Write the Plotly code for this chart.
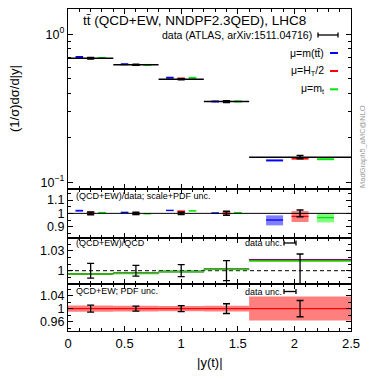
import plotly.graph_objects as go

# ---------------- data ----------------
bin_lo = [0.0, 0.4, 0.8, 1.2, 1.6]
bin_hi = [0.4, 0.8, 1.2, 1.6, 2.5]

# normalised distribution (ATLAS data)
data_val = [0.689, 0.623, 0.497, 0.351, 0.148]
data_relerr = [0.011, 0.008, 0.009, 0.015, 0.025]

# theory (QCD+EW) main panel
th_mtt = [0.703, 0.628, 0.509, 0.352, 0.1406]
th_ht2 = [0.691, 0.620, 0.503, 0.353, 0.1447]
th_mt = [0.693, 0.621, 0.508, 0.352, 0.1433]

# ratio (QCD+EW)/data with scale+PDF band
r_mtt = [1.020, 1.007, 1.022, 1.002, 0.950]
r_mtt_lo = [1.012, 1.002, 1.017, 0.997, 0.910]
r_mtt_hi = [1.028, 1.012, 1.027, 1.008, 0.985]
r_ht2 = [1.004, 0.997, 1.014, 1.002, 0.977]
r_ht2_lo = [0.993, 0.987, 1.002, 0.988, 0.935]
r_ht2_hi = [1.016, 1.008, 1.026, 1.017, 1.017]
r_mt = [1.006, 0.997, 1.019, 1.006, 0.968]
r_mt_lo = [1.001, 0.994, 1.012, 1.002, 0.932]
r_mt_hi = [1.011, 1.002, 1.025, 1.010, 1.000]

# (QCD+EW)/QCD
ew_mtt = [0.9953, 0.9963, 0.9988, 1.0023, 1.0165]
ew_ht2 = [0.9951, 0.9961, 0.9986, 1.0021, 1.0155]
ew_mt = [0.9949, 0.9959, 0.9984, 1.0019, 1.0145]

# PDF uncertainty (relative, QCD+EW)
pdf_unc = [0.010, 0.009, 0.008, 0.009, 0.037]

BLUE, RED, GREEN = "#0000ff", "#ff0000", "#00e600"
BLUE_F, RED_F, GREEN_F = "rgba(0,0,255,0.5)", "rgba(255,0,0,0.5)", "rgba(0,255,0,0.5)"
FONT = "Liberation Sans, Arial, sans-serif"

centers = [(a + b) / 2 for a, b in zip(bin_lo, bin_hi)]
widths = [b - a for a, b in zip(bin_lo, bin_hi)]


def segs(vals, frac=None, half=None):
    xs, ys = [], []
    for a, b, v in zip(bin_lo, bin_hi, vals):
        w = b - a
        if frac is None:
            x0, x1 = a, b
        else:
            x0, x1 = a + w * (frac - half), a + w * (frac + half)
        xs += [x0, x1, None]
        ys += [v, v, None]
    return xs, ys


fig = go.Figure()

# -------- main panel --------
for vals, col, fr in [(th_mtt, BLUE, 0.25), (th_ht2, RED, 0.5), (th_mt, GREEN, 0.75)]:
    xs, ys = segs(vals, fr, 1 / 12)
    fig.add_trace(go.Scatter(x=xs, y=ys, mode="lines", line=dict(color=col, width=2),
                             xaxis="x", yaxis="y", showlegend=False, hoverinfo="skip"))
xs, ys = segs(data_val)
fig.add_trace(go.Scatter(x=xs, y=ys, mode="lines", line=dict(color="black", width=1.5),
                         xaxis="x", yaxis="y", showlegend=False, hoverinfo="skip"))
fig.add_trace(go.Scatter(x=centers, y=data_val, mode="markers", marker=dict(size=1, color="black"),
                         error_y=dict(type="data", array=[v * e for v, e in zip(data_val, data_relerr)],
                                      width=3.5, thickness=1.5, color="black"),
                         xaxis="x", yaxis="y", showlegend=False, hoverinfo="skip"))

# -------- panel 2: (QCD+EW)/data --------
for c, lo, hi, fill, col, fr in [(r_mtt, r_mtt_lo, r_mtt_hi, BLUE_F, BLUE, 0.25),
                                 (r_ht2, r_ht2_lo, r_ht2_hi, RED_F, RED, 0.5),
                                 (r_mt, r_mt_lo, r_mt_hi, GREEN_F, GREEN, 0.75)]:
    fig.add_trace(go.Bar(x=[a + w * fr for a, w in zip(bin_lo, widths)],
                         y=[h - l for h, l in zip(hi, lo)], base=lo,
                         width=[w / 6 for w in widths], marker=dict(color=fill, line=dict(width=0)),
                         xaxis="x2", yaxis="y2", showlegend=False, hoverinfo="skip"))
    xs, ys = segs(c, fr, 1 / 12)
    fig.add_trace(go.Scatter(x=xs, y=ys, mode="lines", line=dict(color=col, width=1.3),
                             xaxis="x2", yaxis="y2", showlegend=False, hoverinfo="skip"))
fig.add_trace(go.Scatter(x=[0, 2.5], y=[1, 1], mode="lines", line=dict(color="black", width=1),
                         xaxis="x2", yaxis="y2", showlegend=False, hoverinfo="skip"))
fig.add_trace(go.Scatter(x=centers, y=[1] * 5, mode="markers", marker=dict(size=1, color="black"),
                         error_y=dict(type="data", array=data_relerr, width=3.5, thickness=1.5, color="black"),
                         xaxis="x2", yaxis="y2", showlegend=False, hoverinfo="skip"))

# -------- panel 3: (QCD+EW)/QCD --------
fig.add_trace(go.Scatter(x=[0, 2.5], y=[1, 1], mode="lines", line=dict(color="black", width=1, dash="4px,3px"),
                         xaxis="x3", yaxis="y3", showlegend=False, hoverinfo="skip"))
for vals, col in [(ew_mtt, BLUE), (ew_ht2, RED), (ew_mt, GREEN)]:
    xs, ys = segs(vals)
    fig.add_trace(go.Scatter(x=xs, y=ys, mode="lines", line=dict(color=col, width=1.5),
                             xaxis="x3", yaxis="y3", showlegend=False, hoverinfo="skip"))
fig.add_trace(go.Scatter(x=centers, y=[1] * 5, mode="markers", marker=dict(size=1, color="black"),
                         error_y=dict(type="data", array=data_relerr, width=3.5, thickness=1.3, color="black"),
                         xaxis="x3", yaxis="y3", showlegend=False, hoverinfo="skip"))

# -------- panel 4: PDF unc --------
fig.add_trace(go.Bar(x=centers, y=[2 * u for u in pdf_unc], base=[1 - u for u in pdf_unc], width=widths,
                     marker=dict(color=RED_F, line=dict(width=0)),
                     xaxis="x4", yaxis="y4", showlegend=False, hoverinfo="skip"))
fig.add_trace(go.Scatter(x=[0, 2.5], y=[1, 1], mode="lines", line=dict(color=RED, width=1.3),
                         xaxis="x4", yaxis="y4", showlegend=False, hoverinfo="skip"))
fig.add_trace(go.Scatter(x=centers, y=[1] * 5, mode="markers", marker=dict(size=1, color="black"),
                         error_y=dict(type="data", array=data_relerr, width=3.5, thickness=1.3, color="black"),
                         xaxis="x4", yaxis="y4", showlegend=False, hoverinfo="skip"))

# -------- layout --------
L, R, T, B, W, H = 68, 23, 9, 49, 374, 380
PW, PH = W - L - R, H - T - B


def fx(px):
    return (px - L) / PW


def fy(py):
    return (H - B - py) / PH


axis_common = dict(showline=True, linecolor="black", linewidth=1.3, mirror="ticks", ticks="inside",
                   ticklen=5, tickwidth=1, tickcolor="black", showgrid=False, zeroline=False,
                   tickfont=dict(family=FONT, size=12.5, color="black"))

xt = [0, 0.5, 1, 1.5, 2, 2.5]
xminor = dict(ticks="inside", ticklen=3, tickwidth=1, tickcolor="black", dtick=0.1, tick0=0, showgrid=False)
layout = dict(width=W, height=H, margin=dict(l=L, r=R, t=T, b=B, autoexpand=False), plot_bgcolor="white",
              paper_bgcolor="white", barmode="overlay", showlegend=False,
              font=dict(family=FONT, color="black"))

domains = [(fy(189), fy(T)), (fy(238), fy(189)), (fy(284.3), fy(238)), (0, fy(284.3))]
for i in range(4):
    n = "" if i == 0 else str(i + 1)
    layout["xaxis" + n] = dict(axis_common, range=[0, 2.5], tickvals=xt,
                               ticktext=["0", "0.5", "1", "1.5", "2", "2.5"],
                               tickfont=dict(family=FONT, size=13, color="black"),
                               showticklabels=(i == 3), minor=xminor, anchor="y" + n,
                               domain=[0, 1], matches=None if i == 0 else "x")

layout["yaxis"] = dict(axis_common, type="log", range=[-1.045, 0.171], domain=list(domains[0]),
                       tickvals=[0.1, 1], ticktext=["10<sup>\u22121</sup>", "10<sup>0</sup>"], anchor="x",
                       minor=dict(ticks="inside", ticklen=3, tickcolor="black", tickmode="array",
                                  tickvals=[0.2, 0.3, 0.4, 0.5, 0.6, 0.7, 0.8, 0.9], showgrid=False))
layout["yaxis2"] = dict(axis_common, range=[0.815, 1.183], domain=list(domains[1]), anchor="x2",
                        tickvals=[0.9, 1.0, 1.1], ticktext=["0.9", "1", "1.1"],
                        minor=dict(ticks="inside", ticklen=3, tickcolor="black", tickmode="array",
                                   tickvals=[0.85, 0.95, 1.05, 1.15], showgrid=False))
layout["yaxis3"] = dict(axis_common, range=[0.9796, 1.049], domain=list(domains[2]), anchor="x3",
                        tickvals=[1.0, 1.03], ticktext=["1", "1.03"],
                        minor=dict(ticks="inside", ticklen=3, tickcolor="black", tickmode="array",
                                   tickvals=[0.99, 1.01, 1.02, 1.04], showgrid=False))
layout["yaxis4"] = dict(axis_common, range=[0.931, 1.075], domain=list(domains[3]), anchor="x4",
                        tickvals=[0.96, 1.0, 1.04], ticktext=["0.96", "1", "1.04"],
                        minor=dict(ticks="inside", ticklen=3, tickcolor="black", tickmode="array",
                                   tickvals=[0.94, 0.98, 1.02, 1.06], showgrid=False))
fig.update_layout(**layout)

ann = []


def text(px, py, s, size, xanchor="left", color="black", angle=0):
    ann.append(dict(x=fx(px), y=fy(py), xref="paper", yref="paper", text=s, showarrow=False,
                    xanchor=xanchor, yanchor="middle", textangle=angle,
                    font=dict(family=FONT, size=size, color=color)))


text(81, 20, "tt\u0304 (QCD+EW, NNDPF2.3QED), LHC8", 13.5)
text(314, 35, "data (ATLAS, arXiv:1511.04716)", 10.5, "right")
text(326, 53, "\u03bc=m(tt\u0304)", 10.5, "right")
text(326, 71, "\u03bc=H<sub>T</sub>/2", 10.5, "right")
text(326, 89.3, "\u03bc=m<sub>t</sub>", 10.5, "right")
text(74, 196, "(QCD+EW)/data; scale+PDF unc.", 9)
text(74, 243, "(QCD+EW)/QCD", 9)
text(74, 291, "QCD+EW; PDF unc.", 9)
text(243, 243, "data unc.", 9)
text(243, 291.5, "data unc.", 9)
text(210, 362, "|y(t)|", 13, "center")
text(15, 99, "(1/\u03c3)d\u03c3/d|y|", 13, "center", angle=-90)
text(362, 147, "MadGraph5_aMC@NLO", 7.5, "center", color="#9a9a9a", angle=-90)
fig.update_layout(annotations=ann)

shapes = []


def hline(px0, px1, py, color, width=2):
    shapes.append(dict(type="line", xref="paper", yref="paper", x0=fx(px0), x1=fx(px1),
                       y0=fy(py), y1=fy(py), line=dict(color=color, width=width)))


def vline(px, py0, py1):
    shapes.append(dict(type="line", xref="paper", yref="paper", x0=fx(px), x1=fx(px),
                       y0=fy(py0), y1=fy(py1), line=dict(color="black", width=1.3)))


def errsym(px0, px1, py):
    hline(px0, px1, py, "black", 1.3)
    vline(px0, py - 2.5, py + 2.5)
    vline(px1, py - 2.5, py + 2.5)


errsym(318, 338, 35)
hline(330, 338, 53, BLUE)
hline(330, 338, 71, RED)
hline(330, 338, 89.3, GREEN)
errsym(284, 296, 243)
errsym(284, 296, 291.5)
fig.update_layout(shapes=shapes)

fig.write_html("out.html", config={"displayModeBar": False},
               post_script="document.body.style.margin='0';document.body.style.overflow='hidden';")
